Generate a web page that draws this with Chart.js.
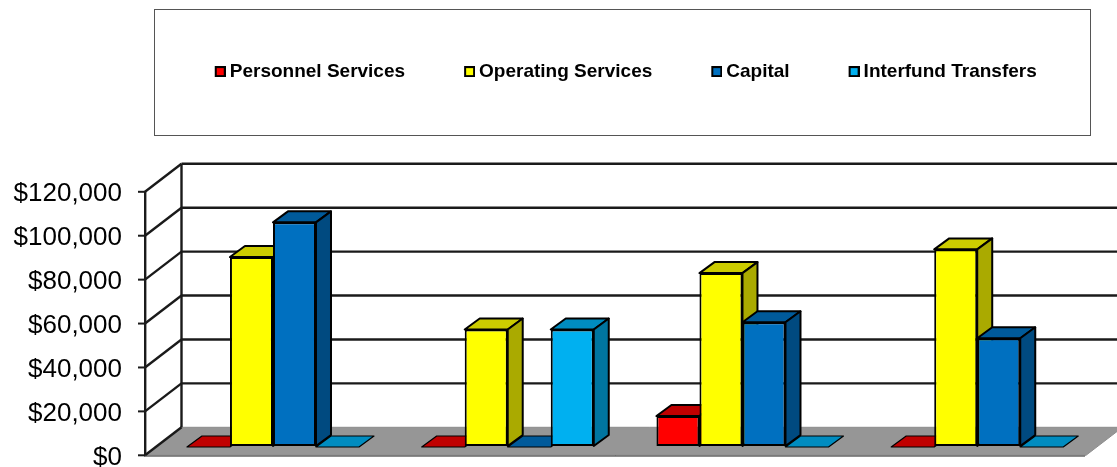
<!DOCTYPE html>
<html>
<head>
<meta charset="utf-8">
<style>
    html, body { margin: 0; padding: 0; background: #fff; }
    canvas { display: block; }
</style>
<script src="https://cdn.jsdelivr.net/npm/chart.js@4"></script>
</head>
<body>
<canvas id="chart" width="1117" height="467"></canvas>
<script>
const categories = ['1', '2', '3', '4'];
const personnelServices = [0, 0, 14100, 0];
const operatingServices = [86500, 53500, 79200, 90000];
const capital = [102300, 0, 56800, 49500];
const interfundTransfers = [0, 53500, 0, 0];

const seriesNames = ['Personnel Services', 'Operating Services', 'Capital', 'Interfund Transfers'];
const seriesValues = [personnelServices, operatingServices, capital, interfundTransfers];
const frontColors = ['#ff0000', '#ffff00', '#0070c0', '#00b0f0'];
const topColors = ['#c00000', '#cccc00', '#005a9a', '#008cc0'];
const sideColors = ['#990000', '#aaaa00', '#004a80', '#0075a0'];

const lineColor = '#1a1a1a';
const wallDx = 36.5, wallDy = -28;   // back wall offset from the front axis
const barDx = 10.6, barDy = -8.3;    // bars stand a bit behind the front axis
const depthDx = 15, depthDy = -11;   // depth of a bar
const legendDx = 85.5, legendDy = -100.7;

function swatch(color) {
    // two blank columns on the left pull the square towards its text
    const c = document.createElement('canvas');
    c.width = 13;
    c.height = 11;
    const g = c.getContext('2d');
    g.fillStyle = '#000';
    g.fillRect(2, 0, 11, 11);
    g.fillStyle = color;
    g.fillRect(4, 2, 7, 7);
    return c;
}

function poly(ctx, pts, fill, stroke, width) {
    ctx.beginPath();
    pts.forEach((p, i) => i ? ctx.lineTo(p[0], p[1]) : ctx.moveTo(p[0], p[1]));
    ctx.closePath();
    ctx.fillStyle = fill;
    ctx.fill();
    if (stroke) {
        ctx.strokeStyle = stroke;
        ctx.lineWidth = width;
        ctx.lineJoin = 'round';
        ctx.stroke();
    }
}

function line(ctx, x1, y1, x2, y2, color, width) {
    ctx.beginPath();
    ctx.moveTo(x1, y1);
    ctx.lineTo(x2, y2);
    ctx.strokeStyle = color;
    ctx.lineWidth = width;
    ctx.stroke();
}

function drawFaces(ctx, meta, i) {
    meta.data.forEach(bar => {
        const l = bar.x - bar.width / 2, r = bar.x + bar.width / 2;
        const border = bar.y === bar.base ? 1.2 : 2;
        poly(ctx, [[l, bar.y], [r, bar.y], [r + depthDx, bar.y + depthDy], [l + depthDx, bar.y + depthDy]], topColors[i], '#000', border);
        if (bar.base > bar.y) {
            poly(ctx, [[r, bar.y], [r + depthDx, bar.y + depthDy], [r + depthDx, bar.base + depthDy], [r, bar.base]], sideColors[i], '#000', border);
        }
    });
}

const threeD = {
    id: 'threeD',
    afterLayout(chart) {
        // legend sits inside its frame above the plot
        chart.legend.left += legendDx;
        chart.legend.right += legendDx;
        chart.legend.top += legendDy;
        chart.legend.bottom += legendDy;
    },
    beforeDraw(chart) {
        const ctx = chart.ctx;
        ctx.save();
        ctx.strokeStyle = '#555';
        ctx.lineWidth = 1;
        ctx.strokeRect(154.5, 9.5, 936, 126);
        ctx.restore();
    },
    beforeDatasetsDraw(chart) {
        const ctx = chart.ctx, y = chart.scales.y, a = chart.chartArea;
        const y0 = y.getPixelForValue(0);
        const yMax = y.getPixelForValue(y.max);
        ctx.save();
        // floor
        poly(ctx, [[a.left, y0], [a.right + 2, y0], [a.right + 2 + wallDx, y0 + wallDy], [a.left + wallDx, y0 + wallDy]], '#969696', '#8c8c8c', 1);
        // walls and tick marks
        line(ctx, a.left + wallDx, yMax + wallDy, a.left + wallDx, y0 + wallDy, lineColor, 2.4);
        y.ticks.forEach(t => {
            const py = y.getPixelForValue(t.value);
            line(ctx, a.left - 7, py, a.left, py, lineColor, 2);
            line(ctx, a.left, py, a.left + wallDx, py + wallDy, lineColor, 2.4);
            if (t.value > 0) {
                line(ctx, a.left + wallDx, py + wallDy, chart.width, py + wallDy, lineColor, 2.4);
            }
        });
        // bars left to right so the next front covers the previous side
        ctx.translate(barDx, barDy);
        seriesNames.forEach((name, i) => {
            const meta = chart.getDatasetMeta(i);
            drawFaces(ctx, meta, i);
            meta.controller.draw();
        });
        ctx.restore();
        return false;
    }
};

new Chart(document.getElementById('chart'), {
    type: 'bar',
    data: {
        labels: categories,
        datasets: seriesNames.map((name, i) => ({
            label: name,
            data: seriesValues[i],
            backgroundColor: frontColors[i],
            // zero bars show only their top face
            borderColor: ctx => ctx.raw === 0 ? 'rgba(0,0,0,0)' : '#000',
            borderWidth: 2,
            borderSkipped: false,
            categoryPercentage: 0.733,
            barPercentage: 1
        }))
    },
    options: {
        responsive: false,
        animation: false,
        layout: { padding: { top: 100.3, right: 33, bottom: 11.7, left: 0 } },
        plugins: {
            tooltip: { enabled: false },
            legend: {
                position: 'top',
                labels: {
                    font: { family: '"Liberation Sans"', size: 19, weight: 'bold' },
                    color: '#000',
                    padding: 62.5,
                    usePointStyle: true,
                    pointStyleWidth: 2,
                    generateLabels: () => seriesNames.map((name, i) => ({
                        text: name,
                        datasetIndex: i,
                        pointStyle: swatch(frontColors[i]),
                        fontColor: '#000'
                    }))
                }
            }
        },
        scales: {
            x: {
                afterFit(scale) { scale.height = 0; },
                ticks: { display: false },
                grid: { display: true, drawOnChartArea: false, drawTicks: false },
                border: { color: lineColor, width: 2.4 }
            },
            y: {
                min: 0,
                max: 120000,
                afterFit(scale) { scale.width = 145; },
                ticks: {
                    stepSize: 20000,
                    padding: 0,
                    labelOffset: 2.5,
                    color: '#000',
                    font: { family: '"Liberation Sans"', size: 26, lineHeight: 0.8 },
                    callback: v => '$' + v.toLocaleString('en-US')
                },
                // the visible marks are shorter, drawn in the plugin; this length only sets the label offset
                grid: { drawOnChartArea: false, tickLength: 23, tickColor: 'rgba(0,0,0,0)', color: lineColor, lineWidth: 2 },
                border: { color: lineColor, width: 2.4 }
            }
        }
    },
    plugins: [threeD]
});
</script>
</body>
</html>
